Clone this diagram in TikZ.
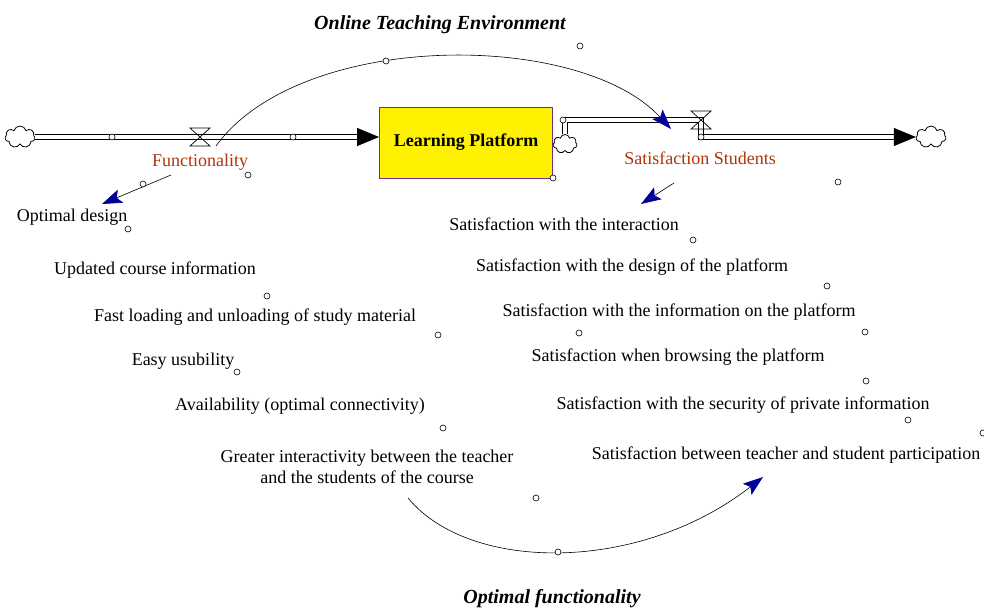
\documentclass[tikz,border=0pt]{standalone}
\usepackage{fontspec}
\setmainfont{Liberation Serif}
\usetikzlibrary{arrows.meta, shapes.symbols}
\definecolor{flowred}{RGB}{176, 52, 8}
\definecolor{linkblue}{RGB}{0, 0, 150}
\definecolor{stockline}{RGB}{112, 48, 144}

\tikzset{
  lbl/.style={font=\fontsize{18}{21}\selectfont, inner sep=0pt, yshift=-2pt},
  ratelbl/.style={lbl, text=flowred},
  heading/.style={font=\fontsize{20}{23}\selectfont\bfseries\itshape, inner sep=0pt, yshift=-3pt},
  pipe/.style={draw=black, double=white, double distance=3.5pt, line width=0.8pt},
  pipetip/.style={-{Triangle[length=22pt, width=18pt]}},
  cause/.style={line width=0.6pt, -{Stealth[length=20pt, width=14pt, inset=4pt, color=linkblue]}},
  handle/.style={circle, draw, fill=white, inner sep=0pt, minimum size=6pt, line width=0.6pt},
  sink/.style={cloud, draw, cloud puffs=7, aspect=1.3, fill=white, inner sep=0pt,
    minimum width=30pt, minimum height=22pt, line width=0.8pt},
  valve/.pic={\draw[line width=0.7pt] (-10,-9) -- (10,-9) -- (-10,9) -- (10,9) -- cycle;}
}

\begin{document}
\begin{tikzpicture}[x=1pt, y=-1pt]
  \useasboundingbox (0, 0) rectangle (984, 608);

  \node[heading] (env) at (440, 22) {Online Teaching Environment};
  \node[heading] (optfun) at (552, 596) {Optimal functionality};

  % stock and clouds
  \node[draw=stockline, fill=yellow, line width=0.8pt, minimum width=173pt, minimum height=71pt,
    font=\fontsize{18}{21}\selectfont\bfseries] (stock) at (466, 142.5) {\raisebox{-2pt}{Learning Platform}};
  \node[sink] (cleft) at (20, 137) {};
  \node[sink, minimum width=24pt, minimum height=19pt] (cmid) at (565, 144) {};
  \node[sink] (cright) at (931, 137) {};
  \coordinate (valveL) at (200, 137);
  \coordinate (valveR) at (701, 120);

  % flows
  \draw[pipe, pipetip] (cleft.east) -- (cleft.east -| stock.west);
  \draw[pipe, pipetip] (cmid.north) |- (valveR) |- (cright.west);
  \pic at (valveL) {valve};
  \pic at (valveR) {valve};
  \node[ratelbl] (func) at (200, 160) {Functionality};
  \node[ratelbl] (satstud) at (700, 156) {Satisfaction Students};

  % left list
  \node[lbl] (optdes) at (72, 215) {Optimal design};
  \node[lbl] (updinfo) at (155, 268) {Updated course information};
  \node[lbl] (fastload) at (255, 315) {Fast loading and unloading of study material};
  \node[lbl] (easyuse) at (183, 359) {Easy usubility};
  \node[lbl] (avail) at (300, 404) {Availability (optimal connectivity)};
  \node[lbl, align=center] (interact) at (367, 465)
    {Greater interactivity between the teacher\\and the students of the course};

  % right list
  \node[lbl] (satint) at (564, 222) {Satisfaction with the interaction};
  \node[lbl] (satdesign) at (632, 265) {Satisfaction with the design of the platform};
  \node[lbl] (satinfo) at (679, 310) {Satisfaction with the information on the platform};
  \node[lbl] (satbrowse) at (678, 355) {Satisfaction when browsing the platform};
  \node[lbl] (satsec) at (743, 403) {Satisfaction with the security of private information};
  \node[lbl] (satpart) at (786, 453) {Satisfaction between teacher and student participation};

  % links
  \coordinate (a1) at (216, 146);
  \coordinate (a2) at (671, 129);
  \draw[cause] (a1) .. controls (300, 30) and (580, 30) .. (a2);
  \coordinate (b1) at (171, 175);
  \coordinate (b2) at (102, 204);
  \draw[cause] (b1) -- (b2);
  \coordinate (d1) at (674, 183);
  \coordinate (d2) at (641, 204);
  \draw[cause] (d1) -- (d2);
  \coordinate (e1) at (408, 498);
  \coordinate (e2) at (763, 477);
  \draw[cause] (e1) .. controls (470, 573) and (640, 573) .. (e2);

  % small handles
  \foreach \x/\y [count=\i] in {112/137, 293/137, 248/175, 143/184, 553/178, 563/120, 701/137,
      386/61, 580/46, 838/182, 128/229, 267/296, 438/335, 237/372, 443/428, 536/498, 558/552,
      693/240, 827/286, 579/333, 865/332, 866/381, 908/420, 983/433}
    \node[handle] (h\i) at (\x, \y) {};
\end{tikzpicture}
\end{document}
